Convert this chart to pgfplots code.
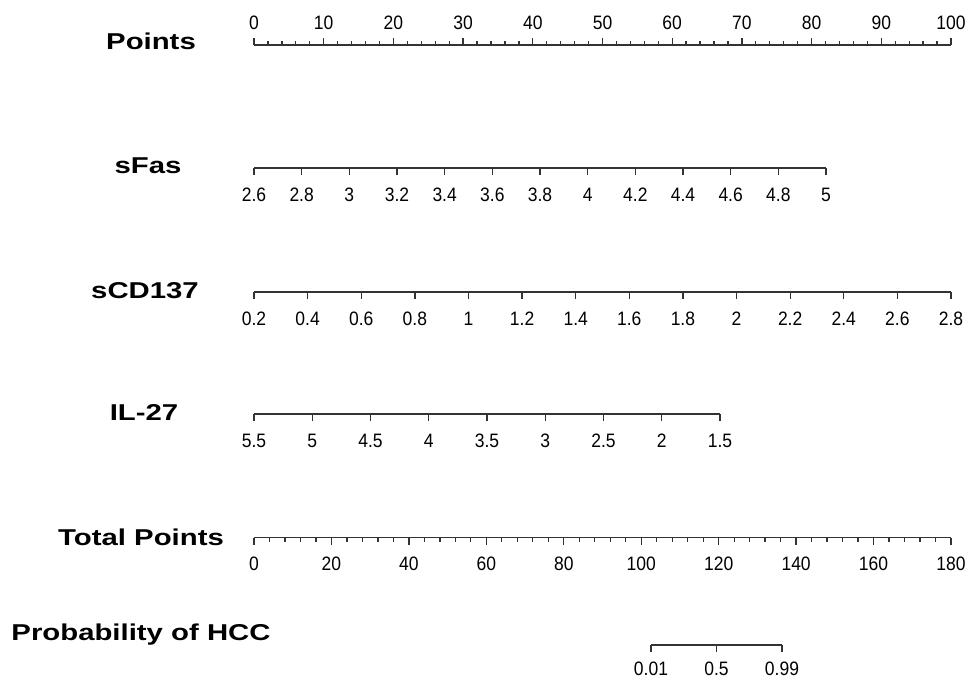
\documentclass[border=0pt]{standalone}
\usepackage{pgfplots}
\pgfplotsset{compat=1.18}
\usepackage{fontspec}
\setmainfont{Liberation Sans}
\begin{document}
\begin{tikzpicture}
\path[use as bounding box] (0bp,0bp) rectangle (967bp,-680bp);
\pgfplotsset{
  nomo/.style={scale only axis, height=10bp, ymin=0, ymax=1,
    axis y line=none, axis x line=bottom,
    axis line style={-, line width=1.3bp, black!80},
    tick style={line width=1.3bp, black!80},
    tick align=outside, major tick length=7bp, minor tick length=4bp,
    xticklabel style={font=\fontsize{19.5}{19.5}\selectfont, xscale=0.9, anchor=north, inner sep=0pt, yshift=-12.5bp},
    anchor=south west, clip=false},
  nomotop/.style={nomo, tick align=inside,
    xticklabel style={anchor=south, yshift=28bp}},
}
\tikzset{lab/.style={font=\fontsize{23}{23}\selectfont\bfseries, anchor=base, xscale=1.28, inner sep=0pt}}

% Points
\begin{axis}[nomotop, at={(254bp,-45bp)}, width=697bp, xmin=0, xmax=100,
  xtick={0,10,20,30,40,50,60,70,80,90,100},
  xticklabels={0,10,20,30,40,50,60,70,80,90,100}, minor tick num=4]
\end{axis}

% sFas
\begin{axis}[nomo, at={(254bp,-168bp)}, width=572bp, xmin=2.6, xmax=5,
  xtick={2.6,2.8,3,3.2,3.4,3.6,3.8,4,4.2,4.4,4.6,4.8,5},
  xticklabels={2.6,2.8,3,3.2,3.4,3.6,3.8,4,4.2,4.4,4.6,4.8,5}]
\end{axis}

% sCD137
\begin{axis}[nomo, at={(254bp,-292bp)}, width=697bp, xmin=0.2, xmax=2.8,
  xtick={0.2,0.4,0.6,0.8,1,1.2,1.4,1.6,1.8,2,2.2,2.4,2.6,2.8},
  xticklabels={0.2,0.4,0.6,0.8,1,1.2,1.4,1.6,1.8,2,2.2,2.4,2.6,2.8}]
\end{axis}

% IL-27
\begin{axis}[nomo, at={(254bp,-414bp)}, width=466bp, xmin=1.5, xmax=5.5, x dir=reverse,
  xtick={5.5,5,4.5,4,3.5,3,2.5,2,1.5},
  xticklabels={5.5,5,4.5,4,3.5,3,2.5,2,1.5}]
\end{axis}

% Total Points
\begin{axis}[nomo, at={(254bp,-537.5bp)}, width=697bp, xmin=0, xmax=180,
  xtick={0,20,40,60,80,100,120,140,160,180},
  xticklabels={0,20,40,60,80,100,120,140,160,180}, minor tick num=4]
\end{axis}

% Probability of HCC (logit scale)
\begin{axis}[nomo, at={(651bp,-645bp)}, width=131bp, xmin=-4.595, xmax=4.595,
  xtick={-4.595,0,4.595},
  xticklabels={0.01,0.5,0.99},
  xticklabel style={yshift=2.5bp}]
\end{axis}

\node[lab] at (151bp,-49.5bp) {Points};
\node[lab] at (148bp,-173.5bp) {sFas};
\node[lab] at (145bp,-298bp) {sCD137};
\node[lab] at (144bp,-420.5bp) {IL-27};
\node[lab] at (141bp,-545.5bp) {Total Points};
\node[lab] at (141bp,-640bp) {Probability of HCC};
\end{tikzpicture}
\end{document}
